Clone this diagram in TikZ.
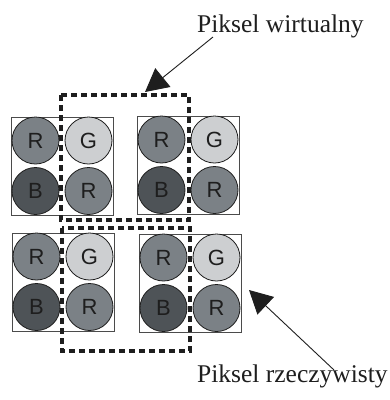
\documentclass[tikz,border=0pt]{standalone}
\usepackage{fontspec}
\setmainfont{Liberation Serif}
\newfontfamily\sansf{Liberation Sans}
\usetikzlibrary{arrows.meta,calc}
\definecolor{cR}{HTML}{7B8186}
\definecolor{cG}{HTML}{CDCFD1}
\definecolor{cB}{HTML}{4E5357}
\definecolor{cLine}{HTML}{1E1E1E}
\tikzset{
  sq/.style={draw=cLine!80, line width=1pt, minimum width=102pt, minimum height=98pt, inner sep=0pt, anchor=north west},
  dot/.style={circle, draw=cLine, line width=0.8pt, minimum size=47pt, inner sep=0pt, text=cLine, font=\sansf\fontsize{22}{22}\selectfont},
  vbox/.style={draw=cLine, line width=3.3pt, dash pattern=on 6pt off 4pt},
  lbl/.style={font=\fontsize{25.5}{30}\selectfont, text=cLine, inner sep=0pt, anchor=base west},
  ptr/.style={draw=cLine, line width=0.9pt, -{Triangle[length=23pt, width=24pt]}}
}
\begin{document}
\begin{tikzpicture}[x=1pt, y=-1pt]
\useasboundingbox[fill=white] (0,0) rectangle (390,400);
% real pixels
\foreach \n/\x/\y in {a/11/117, b/137/116, c/12/233, d/139/234}{
  \node[sq] (sq\n) at (\x,\y) {};
  \node[dot, fill=cR] (\n1) at ($(\x,\y)+(24.5,23.5)$) {R};
  \node[dot, fill=cG] (\n2) at ($(\x,\y)+(77.5,23.5)$) {G};
  \node[dot, fill=cB] (\n3) at ($(\x,\y)+(24.5,74)$) {B};
  \node[dot, fill=cR] (\n4) at ($(\x,\y)+(77.5,74)$) {R};
}
% virtual pixels
\draw[vbox] (61,95) rectangle (189,220);
\draw[vbox] (62,228) rectangle (190,351);
% labels
\node[lbl] (virt) at (197,32) {Piksel wirtualny};
\node[lbl] (real) at (197,382) {Piksel rzeczywisty};
\coordinate (t1) at (213,37);
\coordinate (h1) at (145,92);
\coordinate (t2) at (334,370);
\coordinate (h2) at (249,290);
\draw[ptr] (t1) -- (h1);
\draw[ptr] (t2) -- (h2);
\end{tikzpicture}
\end{document}
